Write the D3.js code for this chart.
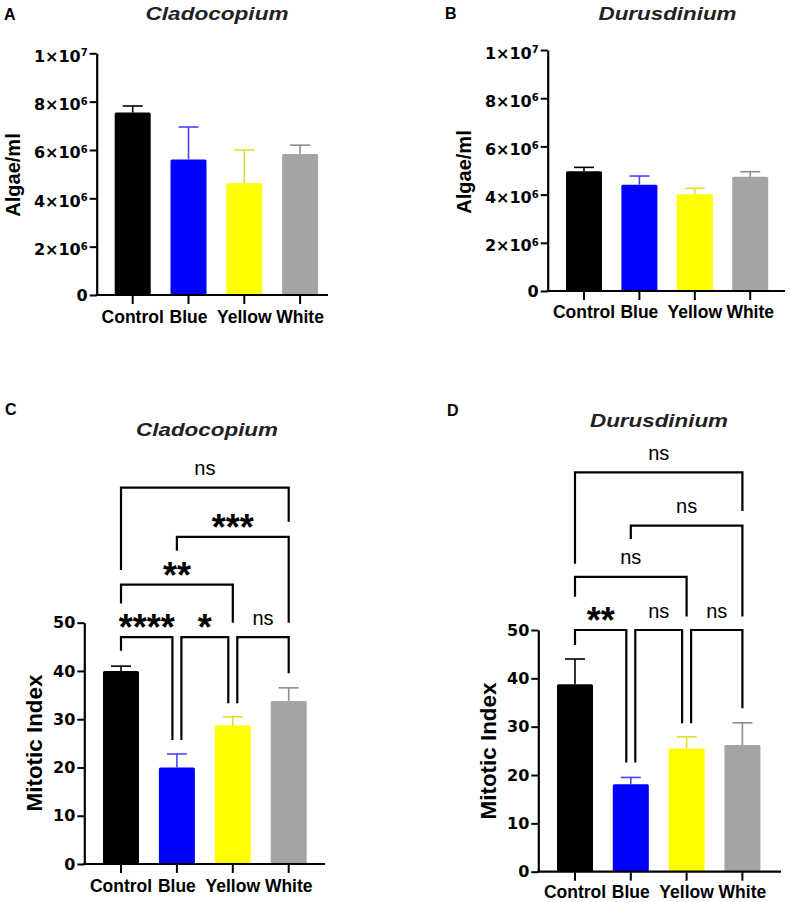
<!DOCTYPE html>
<html><head><meta charset="utf-8">
<script src="https://cdn.jsdelivr.net/npm/d3@7"></script>
<style>body{margin:0;background:#fff}</style>
</head><body>
<svg id="chart" width="790" height="902" xmlns="http://www.w3.org/2000/svg"></svg>
<script>
// ---------- data ----------
const categories = ["Control", "Blue", "Yellow", "White"];
const barColors = ["#000000", "#0000ff", "#ffff00", "#a4a4a4"];
const errColors = ["#000000", "#4646ff", "#e0e02c", "#8e8e8e"];

const algaeTicks = [0, 2e6, 4e6, 6e6, 8e6, 1e7];
const mitoticTicks = [0, 10, 20, 30, 40, 50];

const cladoAlgaeMean = [7.55e6, 5.61e6, 4.62e6, 5.83e6];
const cladoAlgaeErr = [0.27e6, 1.34e6, 1.38e6, 0.37e6];
const duruAlgaeMean = [4.97e6, 4.41e6, 4.01e6, 4.74e6];
const duruAlgaeErr = [0.16e6, 0.36e6, 0.25e6, 0.21e6];
const cladoMitoticMean = [40.0, 20.0, 28.7, 33.8];
const cladoMitoticErr = [1.0, 2.8, 1.8, 2.7];
const duruMitoticMean = [38.8, 18.1, 25.5, 26.2];
const duruMitoticErr = [5.2, 1.4, 2.4, 4.6];

// significance brackets: [from, to, level, leftEnd, rightEnd, label]
const cladoBrackets = [
  ["Control", "Blue", 47, 44.2, 25.7, "****"],
  ["Blue", "Yellow", 47, 25.7, 33.3, "*"],
  ["Yellow", "White", 47, 33.3, 39.5, "ns"],
  ["Control", "Yellow", 57.9, 54, 50, "**"],
  ["Blue", "White", 67.8, 64.9, 50, "***"],
  ["Control", "White", 78, 60.9, 70.9, "ns"]
];
const duruBrackets = [
  ["Control", "Blue", 50, 46.9, 22.6, "**"],
  ["Blue", "Yellow", 50, 22.6, 30.7, "ns"],
  ["Yellow", "White", 50, 30.7, 33.8, "ns"],
  ["Control", "Yellow", 61, 56.9, 52.8, "ns"],
  ["Blue", "White", 71.6, 68.8, 52.8, "ns"],
  ["Control", "White", 82.6, 63.7, 74.6, "ns"]
];

const panelLetters = ["A", "B", "C", "D"];
const panelTitles = ["Cladocopium", "Durusdinium", "Cladocopium", "Durusdinium"];
const yTitles = ["Algae/ml", "Algae/ml", "Mitotic Index", "Mitotic Index"];

// ---------- layout ----------
const layout = [
  {lx: 4, ly: 20, tx: 217, ty: 19.5, tw: 143, ytx: 15, yty: 175, ytf: 20, xly: 28.3,
   axisX: 96.7, axisEnd: 328, bandStart: 104.8, step: 55.8, y0: 295, yTopPx: 53.3,
   ticks: algaeTicks, mean: cladoAlgaeMean, err: cladoAlgaeErr, brackets: []},
  {lx: 445, ly: 18.5, tx: 667.5, ty: 19.5, tw: 138, ytx: 466, yty: 172, ytf: 20, xly: 27.3,
   axisX: 547.7, axisEnd: 785, bandStart: 556.3, step: 55.4, y0: 291, yTopPx: 50,
   ticks: algaeTicks, mean: duruAlgaeMean, err: duruAlgaeErr, brackets: []},
  {lx: 5, ly: 415, tx: 207, ty: 435.5, tw: 142, ytx: 34, yty: 743, ytf: 22.4, xly: 28.3,
   axisX: 84.3, axisEnd: 325, bandStart: 93.05, step: 55.9, y0: 864, yTopPx: 622.7,
   ticks: mitoticTicks, mean: cladoMitoticMean, err: cladoMitoticErr, brackets: cladoBrackets},
  {lx: 447, ly: 416, tx: 659, ty: 427, tw: 138, ytx: 488, yty: 751, ytf: 22.4, xly: 26.3,
   axisX: 538.3, axisEnd: 781, bandStart: 547.1, step: 55.8, y0: 871.7, yTopPx: 630,
   ticks: mitoticTicks, mean: duruMitoticMean, err: duruMitoticErr, brackets: duruBrackets}
];

const svg = d3.select("#chart");
const FONT = "'Liberation Sans', Arial, Helvetica, sans-serif";

layout.forEach((p, i) => {
  const g = svg.append("g");
  const yMax = p.ticks[p.ticks.length - 1];
  const y = d3.scaleLinear().domain([0, yMax]).range([p.y0, p.yTopPx]);
  const x = d3.scaleBand().domain(categories)
    .range([p.bandStart, p.bandStart + p.step * categories.length]).padding(0);
  const cx = c => x(c) + x.bandwidth() / 2;
  const barW = 36;

  // panel letter
  g.append("text").attr("x", p.lx).attr("y", p.ly)
    .attr("font-family", FONT).attr("font-weight", "bold").attr("font-size", 16)
    .text(panelLetters[i]);

  // title
  g.append("text").attr("x", p.tx).attr("y", p.ty)
    .attr("text-anchor", "middle")
    .attr("font-family", FONT).attr("font-weight", "bold").attr("font-style", "italic")
    .attr("font-size", 18.5).attr("fill", "#222")
    .attr("textLength", p.tw).attr("lengthAdjust", "spacingAndGlyphs")
    .text(panelTitles[i]);

  // y title
  g.append("text")
    .attr("transform", `translate(${p.ytx},${p.yty}) rotate(-90)`)
    .attr("text-anchor", "middle")
    .attr("dy", i < 2 ? "0.25em" : "0.36em")
    .attr("font-family", FONT).attr("font-weight", "bold").attr("font-size", p.ytf)
    .text(yTitles[i]);

  // bars
  categories.forEach((c, k) => {
    g.append("rect")
      .attr("x", cx(c) - barW / 2).attr("width", barW)
      .attr("y", y(p.mean[k])).attr("height", y(0) - y(p.mean[k]))
      .attr("rx", 1.5)
      .attr("fill", barColors[k]);
    const top = y(p.mean[k] + p.err[k]);
    g.append("line").attr("x1", cx(c)).attr("x2", cx(c))
      .attr("y1", y(p.mean[k])).attr("y2", top)
      .attr("stroke", errColors[k]).attr("stroke-width", 1.6);
    g.append("line").attr("x1", cx(c) - 10).attr("x2", cx(c) + 10)
      .attr("y1", top).attr("y2", top)
      .attr("stroke", errColors[k]).attr("stroke-width", 1.6);
  });

  // y axis
  const yAxisG = g.append("g").attr("transform", `translate(${p.axisX},0)`)
    .call(d3.axisLeft(y).tickValues(p.ticks).tickSize(7).tickPadding(2).tickSizeOuter(0));
  yAxisG.select(".domain").attr("stroke", "#000").attr("stroke-width", 2.2);
  yAxisG.selectAll(".tick line").attr("stroke", "#000").attr("stroke-width", 2);
  yAxisG.selectAll(".tick text")
    .attr("font-family", "'DejaVu Sans', sans-serif").attr("font-weight", "bold")
    .attr("font-size", 16).attr("fill", "#000")
    .each(function(d) {
      const t = d3.select(this);
      if (d >= 1e5) {
        const e = Math.floor(Math.log10(d));
        const m = Math.round(d / Math.pow(10, e));
        t.text(null).attr("dy", "0.5em");
        t.append("tspan").text(m + "×10");
        t.append("tspan").attr("font-size", 10).attr("dy", "-0.55em").text(e);
      }
    });

  // x axis
  const xAxisG = g.append("g").attr("transform", `translate(0,${p.y0})`)
    .call(d3.axisBottom(x).tickSize(9).tickSizeOuter(0));
  xAxisG.select(".domain").remove();
  xAxisG.selectAll(".tick line").attr("stroke", "#000").attr("stroke-width", 2);
  xAxisG.selectAll(".tick text")
    .attr("y", p.xly).attr("dy", 0)
    .attr("font-family", FONT).attr("font-weight", "bold").attr("font-size", 17.5)
    .attr("fill", "#000");
  g.append("line").attr("x1", p.axisX - 1.1).attr("x2", p.axisEnd)
    .attr("y1", p.y0).attr("y2", p.y0)
    .attr("stroke", "#000").attr("stroke-width", 2.2);

  // significance brackets
  p.brackets.forEach(b => {
    const [from, to, level, le, re, label] = b;
    const sameLevel = p.brackets.filter(o => o !== b && o[2] === level);
    const offL = sameLevel.some(o => o[1] === from) ? 4.5 : 0;
    const offR = sameLevel.some(o => o[0] === to) ? -4.5 : 0;
    const xL = cx(from) + offL, xR = cx(to) + offR;
    const path = d3.path();
    path.moveTo(xL, y(le));
    path.lineTo(xL, y(level));
    path.lineTo(xR, y(level));
    path.lineTo(xR, y(re));
    g.append("path").attr("d", path.toString())
      .attr("fill", "none").attr("stroke", "#000").attr("stroke-width", 2.2)
      .attr("stroke-linejoin", "miter");
    const mid = (xL + xR) / 2;
    if (label.startsWith("*")) {
      g.append("text").attr("x", mid).attr("y", y(level) + 3)
        .attr("text-anchor", "middle")
        .attr("font-family", FONT).attr("font-weight", "bold").attr("font-size", 36)
        .text(label);
    } else {
      g.append("text").attr("x", mid).attr("y", y(level) - 12.5)
        .attr("text-anchor", "middle")
        .attr("font-family", FONT).attr("font-size", 20)
        .text(label);
    }
  });
});
</script>
</body></html>
